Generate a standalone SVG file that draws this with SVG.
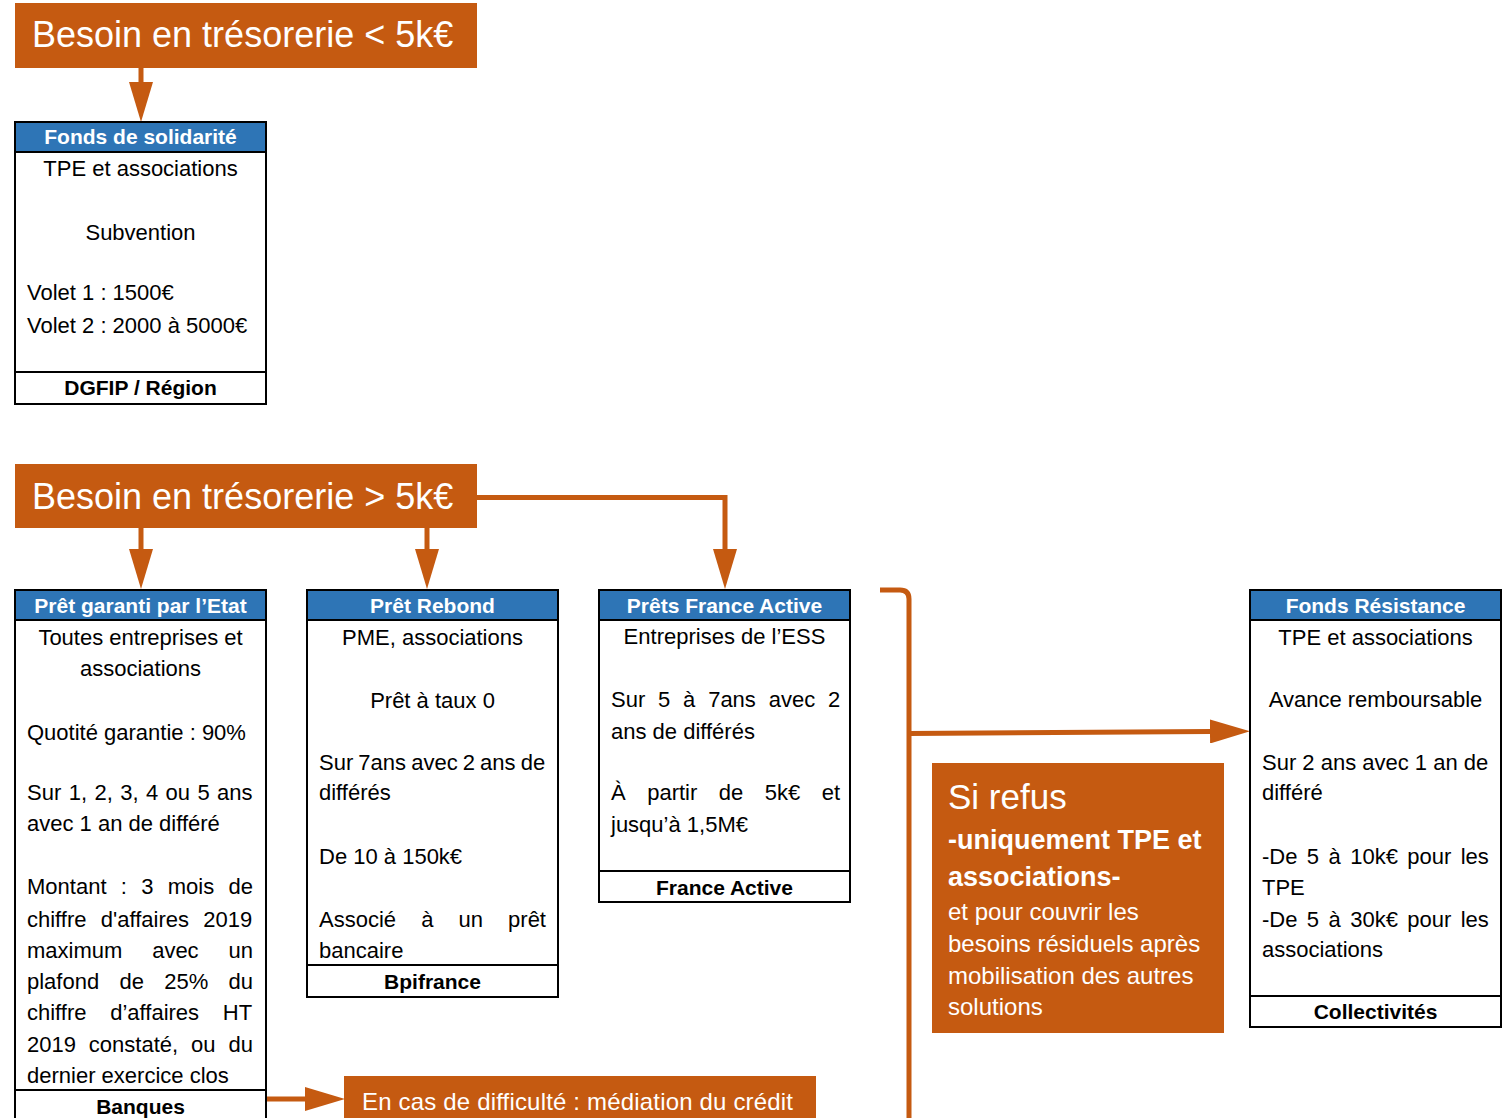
<svg xmlns="http://www.w3.org/2000/svg" width="1504" height="1118" viewBox="0 0 1504 1118">
<style>
text{font-family:"Liberation Sans",Arial,sans-serif;fill:#000;}
.big{font-size:36px;fill:#fff;}
.hd{font-size:21px;font-weight:bold;fill:#fff;text-anchor:middle;}
.ft{font-size:21px;font-weight:bold;text-anchor:middle;}
.b{font-size:22px;}
.c{text-anchor:middle;}
.box{fill:#fff;stroke:#000;stroke-width:2;}
.band{fill:#2E75B6;stroke:#000;stroke-width:2;}
.sep{stroke:#000;stroke-width:2;}
.or{fill:#C55A11;}
.con{fill:none;stroke:#C55A11;stroke-width:5;}
.w{fill:#fff;}
</style>
<defs>
<marker id="ah" markerUnits="userSpaceOnUse" markerWidth="40" markerHeight="24" refX="0" refY="12" orient="auto" viewBox="0 0 40 24">
<path d="M0,0 L40,12 L0,24 Z" fill="#C55A11"/>
</marker>
</defs>

<g id="connectors">
<line class="con" x1="141" y1="68" x2="141" y2="82" stroke-width="6" marker-end="url(#ah)"/>
<line class="con" x1="141" y1="528" x2="141" y2="549" stroke-width="6" marker-end="url(#ah)"/>
<line class="con" x1="427" y1="528" x2="427" y2="549" stroke-width="6" marker-end="url(#ah)"/>
<path class="con" d="M477,497.5 L725,497.5 L725,549" marker-end="url(#ah)"/>
<path class="con" d="M880,590 L900,590 Q909,590 909,599 L909,1118"/>
<line class="con" x1="909" y1="733.5" x2="1210" y2="731.5" marker-end="url(#ah)"/>
<line class="con" x1="267" y1="1099" x2="305" y2="1099" marker-end="url(#ah)"/>
</g>

<g id="header-small">
<rect class="or" x="15" y="3" width="462" height="65"/>
<text class="big" x="32" y="47">Besoin en trésorerie &lt; 5k€</text>
</g>

<g id="header-large">
<rect class="or" x="15" y="464" width="462" height="64"/>
<text class="big" x="32" y="509">Besoin en trésorerie &gt; 5k€</text>
</g>

<g id="fonds-solidarite">
<rect class="box" x="15" y="122" width="251" height="282"/>
<rect class="band" x="15" y="122" width="251" height="30"/>
<line class="sep" x1="15" y1="372" x2="266" y2="372"/>
<text class="hd" x="140.5" y="144">Fonds de solidarité</text>
<text class="b c" x="140.5" y="176">TPE et associations</text>
<text class="b c" x="140.5" y="240">Subvention</text>
<text class="b" x="27" y="300">Volet 1 : 1500€</text>
<text class="b" x="27" y="332.5">Volet 2 : 2000 à 5000€</text>
<text class="ft" x="140.5" y="395">DGFIP / Région</text>
</g>

<g id="pret-garanti">
<rect class="box" x="15" y="590" width="251" height="540"/>
<rect class="band" x="15" y="590" width="251" height="30"/>
<line class="sep" x1="15" y1="1090" x2="266" y2="1090"/>
<text class="hd" x="140.5" y="612.5">Prêt garanti par l’Etat</text>
<text class="b c" x="140.5" y="645">Toutes entreprises et</text>
<text class="b c" x="140.5" y="676">associations</text>
<text class="b" x="27" y="739.5">Quotité garantie : 90%</text>
<text class="b" x="27" y="800" word-spacing="1.3">Sur 1, 2, 3, 4 ou 5 ans</text>
<text class="b" x="27" y="831">avec 1 an de différé</text>
<text class="b" x="27" y="894" word-spacing="8.2">Montant : 3 mois de</text>
<text class="b" x="27" y="926.5" word-spacing="8.2">chiffre d'affaires 2019</text>
<text class="b" x="27" y="957.5" word-spacing="23.7">maximum avec un</text>
<text class="b" x="27" y="988.5" word-spacing="14.2">plafond de 25% du</text>
<text class="b" x="27" y="1020" word-spacing="17.6">chiffre d’affaires HT</text>
<text class="b" x="27" y="1052" word-spacing="6.8">2019 constaté, ou du</text>
<text class="b" x="27" y="1083">dernier exercice clos</text>
<text class="ft" x="140.5" y="1113.5">Banques</text>
</g>

<g id="pret-rebond">
<rect class="box" x="307" y="590" width="251" height="407"/>
<rect class="band" x="307" y="590" width="251" height="30"/>
<line class="sep" x1="307" y1="965" x2="558" y2="965"/>
<text class="hd" x="432.5" y="612.5">Prêt Rebond</text>
<text class="b c" x="432.5" y="645">PME, associations</text>
<text class="b c" x="432.5" y="707.5">Prêt à taux 0</text>
<text class="b" x="319" y="770" word-spacing="-1">Sur 7ans avec 2 ans de</text>
<text class="b" x="319" y="800">différés</text>
<text class="b" x="319" y="864">De 10 à 150k€</text>
<text class="b" x="319" y="926.5" word-spacing="19">Associé à un prêt</text>
<text class="b" x="319" y="957.5">bancaire</text>
<text class="ft" x="432.5" y="988.5">Bpifrance</text>
</g>

<g id="prets-france-active">
<rect class="box" x="599" y="590" width="251" height="312"/>
<rect class="band" x="599" y="590" width="251" height="30"/>
<line class="sep" x1="599" y1="871" x2="850" y2="871"/>
<text class="hd" x="724.5" y="612.5">Prêts France Active</text>
<text class="b c" x="724.5" y="644">Entreprises de l’ESS</text>
<text class="b" x="611" y="707" word-spacing="6.7">Sur 5 à 7ans avec 2</text>
<text class="b" x="611" y="738.5">ans de différés</text>
<text class="b" x="611" y="800" word-spacing="15.4">À partir de 5k€ et</text>
<text class="b" x="611" y="831.5">jusqu’à 1,5M€</text>
<text class="ft" x="724.5" y="894.5">France Active</text>
</g>

<g id="si-refus">
<rect class="or" x="932" y="763" width="292" height="270"/>
<text class="w" x="948" y="809" font-size="35">Si refus</text>
<text class="w" x="948" y="848.5" font-size="27" font-weight="bold">-uniquement TPE et</text>
<text class="w" x="948" y="886" font-size="27" font-weight="bold">associations-</text>
<text class="w" x="948" y="919.5" font-size="24">et pour couvrir les</text>
<text class="w" x="948" y="951.5" font-size="24">besoins résiduels après</text>
<text class="w" x="948" y="983.5" font-size="24">mobilisation des autres</text>
<text class="w" x="948" y="1014.5" font-size="24">solutions</text>
</g>

<g id="fonds-resistance">
<rect class="box" x="1250" y="590" width="251" height="437"/>
<rect class="band" x="1250" y="590" width="251" height="30"/>
<line class="sep" x1="1250" y1="996" x2="1501" y2="996"/>
<text class="hd" x="1375.5" y="612.5">Fonds Résistance</text>
<text class="b c" x="1375.5" y="644.5">TPE et associations</text>
<text class="b c" x="1375.5" y="706.5">Avance remboursable</text>
<text class="b" x="1262" y="769.5">Sur 2 ans avec 1 an de</text>
<text class="b" x="1262" y="799.5">différé</text>
<text class="b" x="1262" y="863.5" word-spacing="3.3">-De 5 à 10k€ pour les</text>
<text class="b" x="1262" y="895">TPE</text>
<text class="b" x="1262" y="926.5" word-spacing="3.3">-De 5 à 30k€ pour les</text>
<text class="b" x="1262" y="956.5">associations</text>
<text class="ft" x="1375.5" y="1019">Collectivités</text>
</g>

<g id="mediation">
<rect class="or" x="344" y="1076" width="472" height="50"/>
<text class="w" x="362" y="1110" font-size="24" textLength="431" lengthAdjust="spacing">En cas de difficulté : médiation du crédit</text>
</g>
</svg>
